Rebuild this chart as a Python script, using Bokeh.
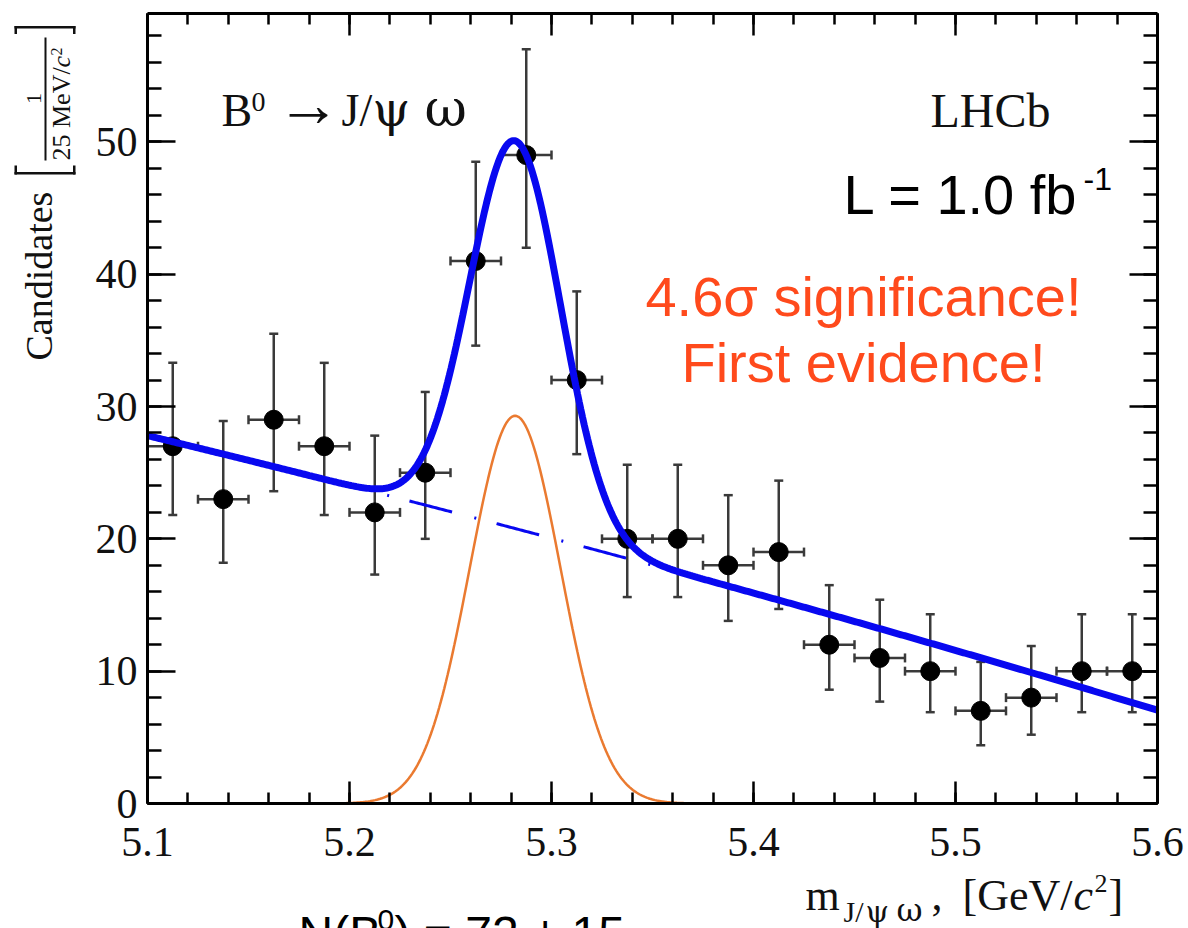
import numpy as np
from bokeh.plotting import figure
from bokeh.models import (Label, Whisker, ColumnDataSource, LinearAxis, FixedTicker,
                          TeeHead, Range1d, PolyAnnotation)
from bokeh.embed import file_html
from bokeh.resources import INLINE

# ---------------- data ----------------
mass = [5.1125, 5.1375, 5.1625, 5.1875, 5.2125, 5.2375, 5.2625, 5.2875, 5.3125, 5.3375,
        5.3625, 5.3875, 5.4125, 5.4375, 5.4625, 5.4875, 5.5125, 5.5375, 5.5625, 5.5875]
candidates = [27, 23, 29, 27, 22, 25, 41, 49, 32, 20, 20, 18, 19, 12, 11, 10, 7, 8, 10, 10]
err_down = [5.2, 4.8, 5.4, 5.2, 4.7, 5.0, 6.4, 7.0, 5.6, 4.4,
            4.4, 4.2, 4.3, 3.4, 3.3, 3.1, 2.6, 2.8, 3.1, 3.1]
err_up = [6.3, 5.9, 6.5, 6.3, 5.8, 6.1, 7.5, 8.0, 6.7, 5.6,
          5.6, 5.3, 5.4, 4.5, 4.4, 4.3, 3.7, 3.9, 4.3, 4.3]
bin_half_width = 0.0125

x_ticks = [5.1, 5.2, 5.3, 5.4, 5.5, 5.6]
x_tick_labels = ["5.1", "5.2", "5.3", "5.4", "5.5", "5.6"]
y_ticks = [0, 10, 20, 30, 40, 50]
y_tick_labels = ["0", "10", "20", "30", "40", "50"]

# fit model parameters
sig_mean = 5.282
sig_sigma = 0.0225
sig_peak = 29.3
bkg_x0 = 5.1
bkg_c0, bkg_c1, bkg_c2 = 27.8, -36.9, -9.2

X_MIN, X_MAX = 5.1, 5.6
Y_MIN, Y_MAX = 0.0, 59.7

# ---------------- layout: the frame fills the canvas, the box sits inside ----------------
W, H = 1188, 928
FL, FR, FT, FB = 147, 1157, 13, 803
SX = (FR - FL) / (X_MAX - X_MIN)
SY = (FB - FT) / (Y_MAX - Y_MIN)


def dx(px):
    return X_MIN + (px - FL) / SX


def dy(py):
    return Y_MIN + (FB - py) / SY


p = figure(width=W, height=H,
           x_range=Range1d(dx(0), dx(W)), y_range=Range1d(dy(H), dy(0)),
           output_backend="svg", toolbar_location=None, x_axis_type=None, y_axis_type=None,
           min_border=0)
p.outline_line_color = None
p.background_fill_color = "white"
p.border_fill_color = "white"

x_minor = [round(X_MIN + 0.02 * i, 2) for i in range(26)]
y_minor = list(range(0, 60, 2))

SERIF = "Liberation Serif"
GREEK = "DejaVu Serif"
SANS = "Liberation Sans"


def add_axis(side, loc, bounds, ticks, minor, labels, show, tin, tmin, standoff):
    ax = LinearAxis(ticker=FixedTicker(ticks=ticks, minor_ticks=minor),
                    fixed_location=loc, bounds=bounds)
    if show:
        ax.major_label_overrides = {t: l for t, l in zip(ticks, labels)}
    else:
        ax.major_label_overrides = {t: "" for t in ticks}
    ax.major_tick_in = tin
    ax.major_tick_out = 0
    ax.minor_tick_in = tmin
    ax.minor_tick_out = 0
    ax.major_tick_line_width = 2.5
    ax.minor_tick_line_width = 2.5
    ax.major_tick_line_color = "black"
    ax.minor_tick_line_color = "black"
    ax.axis_line_width = 3
    ax.axis_line_color = "black"
    ax.major_label_text_font = SERIF
    ax.major_label_text_color = "#111111"
    ax.major_label_text_font_size = "42px"
    ax.major_label_standoff = standoff
    p.add_layout(ax, side)


add_axis("below", Y_MIN, (X_MIN, X_MAX), x_ticks, x_minor, x_tick_labels, True, 22, 11, 24)
add_axis("above", Y_MAX, (X_MIN, X_MAX), x_ticks, x_minor, x_tick_labels, False, 22, 11, 0)
add_axis("left", X_MIN, (Y_MIN, Y_MAX), y_ticks, y_minor, y_tick_labels, True, 28, 14, 10)
add_axis("right", X_MAX, (Y_MIN, Y_MAX), y_ticks, y_minor, y_tick_labels, False, 28, 14, 0)

# ---------------- data points ----------------
src = ColumnDataSource(dict(
    x=mass, y=candidates,
    lo=[c - d for c, d in zip(candidates, err_down)],
    hi=[c + u for c, u in zip(candidates, err_up)],
    xl=[m - bin_half_width for m in mass],
    xr=[m + bin_half_width for m in mass],
))
EB = "#3a3a3a"
for base, lo, hi, dim in (("x", "lo", "hi", "height"), ("y", "xl", "xr", "width")):
    p.add_layout(Whisker(source=src, base=base, lower=lo, upper=hi, dimension=dim,
                         line_color=EB, line_width=2.5, level="underlay",
                         lower_head=TeeHead(size=9, line_color=EB, line_width=2.5),
                         upper_head=TeeHead(size=9, line_color=EB, line_width=2.5)))
p.scatter("x", "y", source=src, size=19, color="black", marker="circle")

# ---------------- fit curves ----------------
xs = np.linspace(X_MIN, X_MAX, 600)
u = xs - bkg_x0
bkg = bkg_c0 + bkg_c1 * u + bkg_c2 * u ** 2
sig = sig_peak * np.exp(-0.5 * ((xs - sig_mean) / sig_sigma) ** 2)
tot = bkg + sig

BLUE = "#0808f0"
p.line(xs, bkg, line_color=BLUE, line_width=3, line_dash="44 23 2 21")
p.line(xs, sig, line_color="#ea7a30", line_width=2.5)
p.line(xs, tot, line_color=BLUE, line_width=7)

# ---------------- texts ----------------
SHIFT = 0.38  # Bokeh places the alphabetic baseline this many em lower


def lab(text, px, py, size, font=SERIF, color="#111111", align="left", style="normal",
        rotated=False):
    if rotated:
        x, y, ang = px - SHIFT * size, py, np.pi / 2
    else:
        x, y, ang = px, py - SHIFT * size, 0.0
    p.add_layout(Label(x=dx(x), y=dy(y), text=text, text_font=font,
                       text_font_size=f"{size}px", text_color=color, text_align=align,
                       text_baseline="alphabetic", text_font_style=style, angle=ang))


# decay title
lab("B", 221, 127, 46)
lab("0", 251, 112, 28)
lab("\u2192", 276, 128, 64)
lab("J/", 341, 127, 46)
lab("\u03c8", 372, 127, 48, font=GREEK)
lab("\u03c9", 424, 127, 52, font=GREEK)
# experiment
lab("LHCb", 930, 128, 48)
# luminosity
lab("L = 1.0 fb", 843, 215, 56, font=SANS, color="black")
lab("-1", 1083, 191, 32, font=SANS, color="black")
# significance
RED = "#ff4a1c"
lab("4.6\u03c3 significance!", 863, 317, 56, font=SANS, color=RED, align="center")
lab("First evidence!", 863, 383, 56, font=SANS, color=RED, align="center")
# yield (cut by the page edge, as in the original)
lab("N(B", 298, 951, 48, font=SANS, color="black")
lab("0", 377, 931, 30, font=SANS, color="black")
lab(") = 72 \u00b1 15", 394, 951, 48, font=SANS, color="black")

# x axis title
lab("m", 805, 912, 44)
lab("J/", 843, 922, 30)
lab("\u03c8", 865, 922, 30, font=GREEK)
lab("\u03c9", 896, 922, 32, font=GREEK)
lab(",", 931, 912, 44)
lab("[GeV/", 962, 912, 44)
lab("c", 1073, 912, 44, style="italic")
lab("2", 1094, 893, 26)
lab("]", 1108, 912, 44)

# y axis title (rotated)
lab("Candidates", 53, 360, 38, rotated=True)
lab("1", 42, 98, 22, align="center", rotated=True)
lab("25 MeV/", 71, 160, 26, rotated=True)
lab("c", 71, 67, 26, style="italic", rotated=True)
lab("2", 62, 55, 16, rotated=True)


def rect(x0, x1, y0, y1):
    p.add_layout(PolyAnnotation(xs=[dx(x0), dx(x1), dx(x1), dx(x0)],
                                ys=[dy(y0), dy(y0), dy(y1), dy(y1)],
                                fill_color="#111111", fill_alpha=1.0, line_color=None))


# brackets and fraction bar of the y title
rect(14, 75, 25.5, 28)
rect(14, 16.5, 25.5, 33.5)
rect(72.5, 75, 25.5, 33.5)
rect(14, 75, 171.5, 174)
rect(14, 16.5, 165, 174)
rect(72.5, 75, 165, 174)
rect(44, 46, 37, 160)

open("out.html", "w").write(file_html(p, INLINE))
